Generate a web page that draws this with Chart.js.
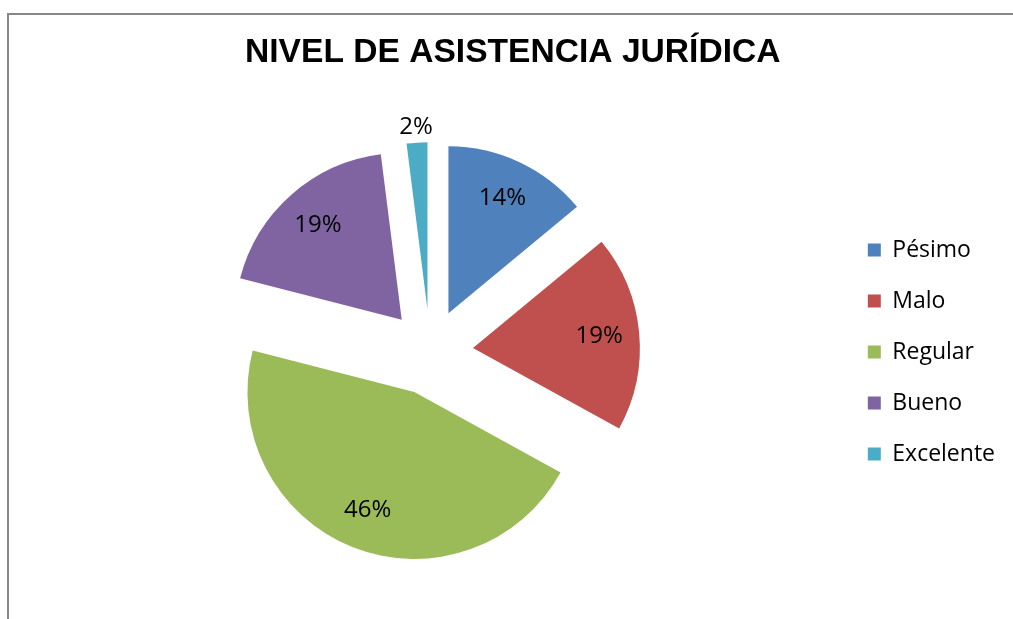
<!DOCTYPE html>
<html>
<head>
<meta charset="utf-8">
<title>Nivel de asistencia jurídica</title>
<script src="https://cdn.jsdelivr.net/npm/chart.js@4.4.0/dist/chart.umd.min.js"></script>
<style>
  html, body { margin: 0; overflow: hidden; background: #fff; }
  .frame {
    position: fixed;
    left: 7px;
    top: 13px;
    right: 0;
    bottom: 0;
    overflow: hidden;
    border-left: 2px solid #878787;
    border-top: 2px solid #878787;
  }
  .frame canvas { display: block; }
</style>
</head>
<body>
<div class="frame"><canvas id="pieChart" width="1030" height="604"></canvas></div>
<script>
// data
const chartTitle = 'NIVEL DE ASISTENCIA JURÍDICA';
const categories = ['Pésimo', 'Malo', 'Regular', 'Bueno', 'Excelente'];
const percentages = [14, 19, 46, 19, 2];
const sliceColors = ['#4F81BD', '#C0504D', '#9BBB59', '#8064A2', '#4BACC6'];


// pull every slice away from the centre (exploded pie)
const explodePlugin = {
  id: 'explode',
  beforeDatasetDraw(chart, args, opts) {
    args.meta.data.forEach(arc => {
      const mid = (arc.startAngle + arc.endAngle) / 2;
      arc.$home = [arc.x, arc.y];
      arc.x += Math.cos(mid) * opts.distance;
      arc.y += Math.sin(mid) * opts.distance;
    });
  },
  afterDatasetDraw(chart, args) {
    args.meta.data.forEach(arc => {
      if (arc.$home) {
        arc.x = arc.$home[0];
        arc.y = arc.$home[1];
      }
    });
  }
};

// percentage labels on the slices
const sliceLabels = {
  id: 'sliceLabels',
  afterDatasetsDraw(chart, args, opts) {
    const ctx = chart.ctx;
    const meta = chart.getDatasetMeta(0);
    const values = chart.data.datasets[0].data;
    const total = values.reduce((a, b) => a + b, 0);
    const dist = chart.options.plugins.explode.distance;

    ctx.save();
    ctx.font = opts.font;
    ctx.fillStyle = opts.color;
    ctx.textAlign = 'center';
    ctx.textBaseline = 'middle';
    meta.data.forEach((arc, i) => {
      const share = values[i] / total;
      const mid = (arc.startAngle + arc.endAngle) / 2;
      const r = share < 0.05 ? arc.outerRadius + 16 : arc.outerRadius * 0.76;
      const x = arc.x + Math.cos(mid) * (dist + r);
      const y = arc.y + Math.sin(mid) * (dist + r);
      ctx.fillText(Math.round(share * 100) + '%', x, y);
    });
    ctx.restore();
  }
};


const ctx = document.getElementById('pieChart').getContext('2d');
const pieChart = new Chart(ctx, {
  type: 'pie',
  data: {
    labels: categories,
    datasets: [{
      data: percentages,
      backgroundColor: sliceColors,
      borderWidth: 0,
      hoverOffset: 0,
      offset: 0
    }]
  },
  options: {
    responsive: false,
    animation: false,
    layout: {
      padding: { left: 11.5, right: 34, top: 0, bottom: 100 }
    },
    plugins: {
      title: {
        display: true,
        text: chartTitle,
        color: '#000',
        font: { family: 'Liberation Sans', size: 33.6, weight: 'bold' },
        padding: { top: 17.9, bottom: 112 }
      },
      legend: {
        position: 'right',
        fullSize: false,
        labels: {
          boxWidth: 13,
          boxHeight: 13,
          padding: 28,
          color: '#000',
          font: { family: 'Open Sans', size: 23 }
        }
      },
      tooltip: { enabled: false },
      explode: { distance: 43 },
      sliceLabels: { font: '24px "Open Sans"', color: '#000' }
    }
  },
  plugins: [explodePlugin, sliceLabels]
});
</script>
</body>
</html>
